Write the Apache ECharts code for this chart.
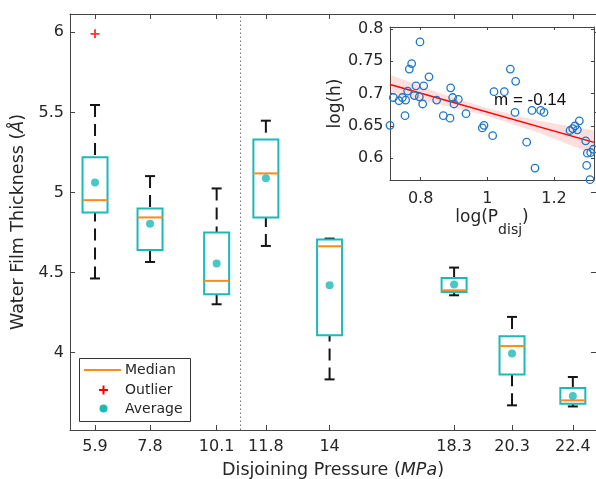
<!DOCTYPE html>
<html><head><meta charset="utf-8">
<script src="https://cdn.jsdelivr.net/npm/echarts@6/dist/echarts.min.js"></script>
<style>html,body{margin:0;padding:0;background:#fff}#c{width:596px;height:479px}</style>
</head><body><div id="c"></div><script>
// ---- main box plot data (Disjoining pressure, MPa) ----
const pressures   = [5.9, 7.8, 10.1, 11.8, 14, 18.3, 20.3, 22.4];
const whiskerLow  = [4.463, 4.566, 4.302, 4.666, 3.833, 4.358, 3.671, 3.664];
const q1          = [4.875, 4.640, 4.365, 4.844, 4.108, 4.379, 3.864, 3.681];
const median      = [4.952, 4.844, 4.448, 5.119, 4.664, 4.389, 4.041, 3.702];
const q3          = [5.219, 4.900, 4.750, 5.331, 4.706, 4.466, 4.102, 3.779];
const whiskerHigh = [5.546, 5.102, 5.025, 5.448, 4.712, 4.531, 4.223, 3.848];
const average     = [5.062, 4.804, 4.556, 5.088, 4.421, 4.425, 3.994, 3.729];
const outlierX    = [5.9];
const outlierY    = [5.99];
const dividerX    = 10.9;
const yTicks      = [4, 4.5, 5, 5.5, 6];

// ---- inset data: log(P_disj) vs log(h) ----
const logP = [0.708,0.718,0.735,0.745,0.755,0.753,0.761,0.766,0.773,0.781,0.786,0.796,0.798,0.806,0.809,0.825,0.848,0.868,0.888,0.890,0.896,0.900,0.913,0.936,0.985,0.990,1.016,1.020,1.051,1.069,1.085,1.083,1.118,1.134,1.143,1.160,1.170,1.248,1.256,1.263,1.270,1.276,1.295,1.300,1.298,1.310,1.318,1.308];
const logH = [0.651,0.694,0.689,0.694,0.690,0.666,0.704,0.738,0.7465,0.697,0.712,0.695,0.780,0.684,0.712,0.726,0.690,0.666,0.662,0.709,0.694,0.684,0.691,0.669,0.647,0.651,0.635,0.703,0.703,0.738,0.719,0.671,0.625,0.674,0.585,0.674,0.671,0.643,0.646,0.650,0.644,0.658,0.627,0.608,0.589,0.609,0.614,0.567];
const fitX = [0.708, 1.32];
const fitY = [0.714, 0.6247];
const bandX     = [0.708, 0.85, 1.0, 1.15, 1.32];
const bandUpper = [0.729, 0.7023, 0.6774, 0.6585, 0.643];
const bandLower = [0.699, 0.6843, 0.6654, 0.6405, 0.606];
const insetXTicks = [0.8, 1, 1.2];
const insetYTicks = [0.6, 0.65, 0.7, 0.75, 0.8];

const FONT = 'DejaVu Sans';
const TEAL = '#1CB9B9';
const ORANGE = '#FF8A1A';
const AX = '#444';
const TXT = '#262626';

const boxData = pressures.map((p, i) => [p, whiskerLow[i], q1[i], median[i], q3[i], whiskerHigh[i]]);
const fmt = v => String(Number(v.toFixed(3)));

function axisCommon(ticks, showLabel, margin, tickLen) {
  return {
    type: 'value',
    splitLine: { show: false },
    axisLine: { show: true, onZero: false, lineStyle: { color: AX, width: 1 } },
    axisTick: { show: true, inside: true, length: tickLen, customValues: ticks, lineStyle: { color: AX, width: 1 } },
    axisLabel: { show: showLabel, customValues: ticks, formatter: fmt, margin: margin,
      fontFamily: FONT, fontSize: 16, color: TXT }
  };
}

const chart = echarts.init(document.getElementById('c'), null, { renderer: 'canvas' });
const option = {
  animation: false,
  backgroundColor: '#fff',
  grid: [
    { left: 70, top: 14, right: 0, bottom: 49, containLabel: false, outerBoundsMode: 'none' },
    { left: 390, top: 27, width: 204, height: 153, containLabel: false, outerBoundsMode: 'none',
      show: true, backgroundColor: '#fff', borderWidth: 0, z: 3 }
  ],
  xAxis: [
    Object.assign(axisCommon(pressures, true, 9, 5), {
      gridIndex: 0, position: 'bottom', min: 5.036, max: 23.2,
      name: 'Disjoining Pressure ({i|MPa})', nameLocation: 'middle', nameGap: 31,
      nameTextStyle: { fontFamily: FONT, fontSize: 17.5, color: TXT,
        rich: { i: { fontFamily: FONT, fontSize: 17.5, fontStyle: 'italic', color: TXT } } }
    }),
    Object.assign(axisCommon(pressures, false, 9, 5), { gridIndex: 0, position: 'top', min: 5.036, max: 23.2 }),
    Object.assign(axisCommon(insetXTicks, true, 11, 3), {
      gridIndex: 1, position: 'bottom', min: 0.708, max: 1.32, z: 4,
      name: 'log(P{sub|disj})', nameLocation: 'middle', nameGap: 29,
      nameTextStyle: { fontFamily: FONT, fontSize: 17, color: TXT, verticalAlign: 'top', lineHeight: 18,
        rich: { sub: { fontFamily: FONT, fontSize: 14, lineHeight: 14, color: TXT, verticalAlign: 'top', padding: [14, 0, 0, 0] } } }
    }),
    Object.assign(axisCommon(insetXTicks, false, 9, 3), { gridIndex: 1, position: 'top', min: 0.708, max: 1.32, z: 4 })
  ],
  yAxis: [
    Object.assign(axisCommon(yTicks, true, 6, 5), {
      gridIndex: 0, position: 'left', min: 3.517, max: 6.114,
      name: 'Water Film Thickness ({i|Å})', nameLocation: 'middle', nameGap: 38,
      nameTextStyle: { fontFamily: FONT, fontSize: 17.5, color: TXT,
        rich: { i: { fontFamily: FONT, fontSize: 17.5, fontStyle: 'italic', color: TXT } } }
    }),
    Object.assign(axisCommon(yTicks, false, 6, 5), { gridIndex: 0, position: 'right', min: 3.517, max: 6.114 }),
    Object.assign(axisCommon(insetYTicks, true, 6.5, 3), {
      gridIndex: 1, position: 'left', min: 0.5665, max: 0.803, z: 4,
      name: 'log(h)', nameLocation: 'middle', nameGap: 45,
      nameTextStyle: { fontFamily: FONT, fontSize: 17, color: TXT }
    }),
    Object.assign(axisCommon(insetYTicks, false, 6, 3), { gridIndex: 1, position: 'right', min: 0.5665, max: 0.803, z: 4 })
  ],
  series: [
    {
      name: 'Boxes', type: 'custom', xAxisIndex: 0, yAxisIndex: 0,
      data: boxData, encode: { x: 0, y: [1, 2, 3, 4, 5] },
      renderItem: function (params, api) {
        const x = api.value(0);
        const pLo = api.coord([x, api.value(1)]);
        const pQ1 = api.coord([x, api.value(2)]);
        const pMd = api.coord([x, api.value(3)]);
        const pQ3 = api.coord([x, api.value(4)]);
        const pHi = api.coord([x, api.value(5)]);
        const cx = pMd[0], hw = 12.5, cw = 5;
        const dash = { stroke: '#151515', lineWidth: 2, lineDash: [12, 7], fill: 'none' };
        const solid = { stroke: '#151515', lineWidth: 2, fill: 'none' };
        return { type: 'group', children: [
          { type: 'line', shape: { x1: cx, y1: pHi[1], x2: cx, y2: pQ3[1] }, style: dash },
          { type: 'line', shape: { x1: cx, y1: pLo[1], x2: cx, y2: pQ1[1] }, style: dash },
          { type: 'line', shape: { x1: cx - cw, y1: pHi[1], x2: cx + cw, y2: pHi[1] }, style: solid },
          { type: 'line', shape: { x1: cx - cw, y1: pLo[1], x2: cx + cw, y2: pLo[1] }, style: solid },
          { type: 'rect', shape: { x: cx - hw, y: pQ3[1], width: 2 * hw, height: pQ1[1] - pQ3[1] },
            style: { fill: 'none', stroke: TEAL, lineWidth: 2 } },
          { type: 'line', shape: { x1: cx - hw, y1: pMd[1], x2: cx + hw, y2: pMd[1] },
            style: { stroke: ORANGE, lineWidth: 2, fill: 'none' } }
        ] };
      }
    },
    {
      name: 'Average', type: 'scatter', xAxisIndex: 0, yAxisIndex: 0, z: 3,
      data: pressures.map((p, i) => [p, average[i]]),
      symbol: 'circle', symbolSize: 8, itemStyle: { color: TEAL },
      markLine: {
        silent: true, symbol: ['none', 'none'], label: { show: false },
        lineStyle: { type: [1.5, 2.5], color: '#777', width: 1 },
        data: [{ xAxis: dividerX }]
      }
    },
    {
      name: 'Outlier', type: 'scatter', xAxisIndex: 0, yAxisIndex: 0, z: 3,
      data: outlierX.map((x, i) => [x, outlierY[i]]),
      symbol: 'path://M4,0H6V10H4Z M0,4H10V6H0Z', symbolSize: 9, itemStyle: { color: '#FF0000' }
    },
    {
      name: 'Band', type: 'custom', xAxisIndex: 2, yAxisIndex: 2, z: 5, clip: true,
      data: [[bandX[0], bandLower[0]]],
      renderItem: function (params, api) {
        const pts = [];
        for (let i = 0; i < bandX.length; i++) pts.push(api.coord([bandX[i], bandUpper[i]]));
        for (let i = bandX.length - 1; i >= 0; i--) pts.push(api.coord([bandX[i], bandLower[i]]));
        return { type: 'polygon', shape: { points: pts }, style: { fill: 'rgba(255,0,0,0.13)', stroke: 'none' } };
      }
    },
    {
      name: 'Fit', type: 'line', xAxisIndex: 2, yAxisIndex: 2, z: 6,
      data: fitX.map((x, i) => [x, fitY[i]]), symbol: 'none',
      lineStyle: { color: '#FF0000', width: 1.5 }
    },
    {
      name: 'Points', type: 'scatter', xAxisIndex: 2, yAxisIndex: 2, z: 7,
      data: logP.map((x, i) => [x, logH[i]]),
      symbol: 'circle', symbolSize: 7.5,
      itemStyle: { color: 'rgba(0,0,0,0)', borderColor: '#1F77C8', borderWidth: 1.3, opacity: 1 }
    }
  ],
  graphic: [
    { type: 'rect', z: 100, shape: { x: 79.5, y: 358.5, width: 111, height: 63 },
      style: { fill: '#fff', stroke: '#333', lineWidth: 1 } },
    { type: 'line', z: 101, shape: { x1: 84, y1: 370, x2: 121, y2: 370 }, style: { stroke: ORANGE, lineWidth: 2 } },
    { type: 'line', z: 101, shape: { x1: 99, y1: 390, x2: 108, y2: 390 }, style: { stroke: '#FF0000', lineWidth: 2 } },
    { type: 'line', z: 101, shape: { x1: 103.5, y1: 385.5, x2: 103.5, y2: 394.5 }, style: { stroke: '#FF0000', lineWidth: 2 } },
    { type: 'circle', z: 101, shape: { cx: 103.5, cy: 408.5, r: 4 }, style: { fill: TEAL } },
    { type: 'text', z: 101, x: 125, y: 370, style: { text: 'Median', fontFamily: FONT, fontSize: 14, fill: TXT, verticalAlign: 'middle' } },
    { type: 'text', z: 101, x: 125, y: 390, style: { text: 'Outlier', fontFamily: FONT, fontSize: 14, fill: TXT, verticalAlign: 'middle' } },
    { type: 'text', z: 101, x: 125, y: 409, style: { text: 'Average', fontFamily: FONT, fontSize: 14, fill: TXT, verticalAlign: 'middle' } },
    { type: 'text', z: 101, x: 494, y: 100, style: { text: 'm = -0.14', fontFamily: 'Liberation Sans', fontSize: 17, fill: '#111', verticalAlign: 'middle' } }
  ]
};
chart.setOption(option);
</script></body></html>
